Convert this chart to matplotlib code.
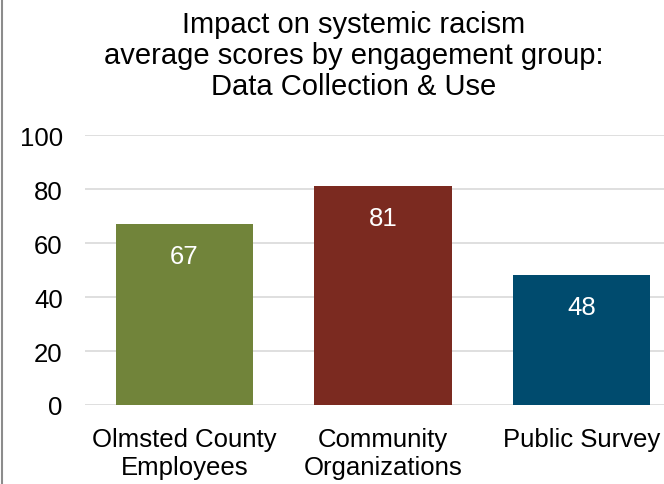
import matplotlib
matplotlib.use("Agg")
import matplotlib.pyplot as plt
from matplotlib.lines import Line2D

categories = ["Olmsted County\nEmployees", "Community\nOrganizations", "Public Survey"]
values = [67, 81, 48]
labels = ["67", "81", "48"]
colors = ["#71843A", "#7B2A20", "#004B6E"]
yticks = [0, 20, 40, 60, 80, 100]
title = "Impact on systemic racism\naverage scores by engagement group:\nData Collection & Use"

plt.rcParams['font.family'] = ['Liberation Sans', 'DejaVu Sans']

fig = plt.figure(figsize=(6.64, 4.85), dpi=100)
ax = fig.add_axes([85/664, 79/485, 596/664, 270/485])
x = range(len(categories))
bars = ax.bar(x, values, width=0.69, color=colors, zorder=3)
ax.set_xlim(-0.5, len(categories) - 0.5)
ax.set_ylim(0, 100)
ax.set_yticks(yticks)
ax.set_yticklabels([str(t) for t in yticks], fontsize=18.5)
ax.set_xticks(list(x))
ax.set_xticklabels(categories, fontsize=18.5, linespacing=1.2)
ax.tick_params(axis='both', length=0, colors='black')
ax.tick_params(axis='y', pad=16)
ax.tick_params(axis='x', pad=16)
ax.grid(axis='y', color='#D9D9D9', linewidth=1.2, zorder=0)
for s in ax.spines.values():
    s.set_visible(False)

for b, lab in zip(bars, labels):
    ax.annotate(lab, (b.get_x() + b.get_width() / 2, b.get_height()),
                xytext=(0, -23), textcoords='offset points',
                ha='center', va='center', color='white', fontsize=18.5, zorder=4)

fig.text(354/664, 1 - 56/485, title, ha='center', va='center', fontsize=21,
         linespacing=1.13)
fig.add_artist(Line2D([2/664, 2/664], [0, 1], transform=fig.transFigure,
                      color='#8C8C8C', linewidth=1.5))

fig.savefig("out.png", dpi=100)
